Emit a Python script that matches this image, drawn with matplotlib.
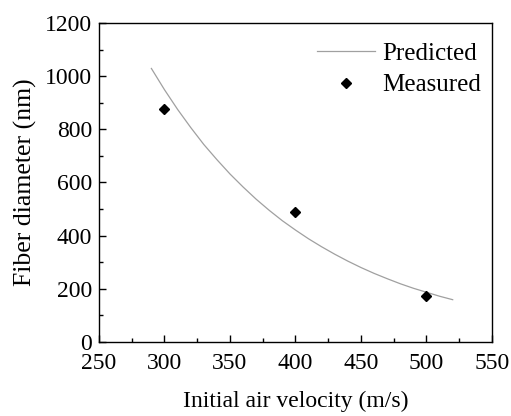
import matplotlib
matplotlib.use("Agg")
import matplotlib.pyplot as plt
from matplotlib.ticker import MultipleLocator
from matplotlib import font_manager

# Predicted curve
pred_v = [290, 300, 310, 320, 330, 340, 350, 360, 370, 380, 390, 400, 410,
          420, 430, 440, 450, 460, 470, 480, 490, 500, 510, 520]
pred_d = [1029, 949, 875, 807, 743, 686, 632, 583, 537, 495, 456, 421, 388,
          358, 330, 304, 280, 258, 238, 219, 202, 187, 172, 159]

# Measured points
meas_v = [300, 400, 500]
meas_d = [876, 490, 172]

names = {f.name for f in font_manager.fontManager.ttflist}
serif = "Liberation Serif" if "Liberation Serif" in names else "DejaVu Serif"
plt.rcParams["font.family"] = "serif"
plt.rcParams["font.serif"] = [serif, "DejaVu Serif"]

fig = plt.figure(figsize=(5.11, 4.16), dpi=100)
ax = fig.add_axes([0.1937, 0.178, 0.7691, 0.7667])

ax.plot(pred_v, pred_d, color="#a0a0a0", linewidth=0.9, label="Predicted")
ax.plot(meas_v, meas_d, linestyle="none", marker="D", markersize=5.3,
        color="black", label="Measured")

ax.set_xlim(250, 550)
ax.set_ylim(0, 1200)
ax.xaxis.set_major_locator(MultipleLocator(50))
ax.xaxis.set_minor_locator(MultipleLocator(25))
ax.yaxis.set_major_locator(MultipleLocator(200))
ax.yaxis.set_minor_locator(MultipleLocator(100))
ax.tick_params(which="both", direction="in", top=False, right=False,
               labelsize=17)
ax.tick_params(axis="x", pad=8)
ax.tick_params(axis="y", pad=5)
ax.tick_params(which="major", length=5, width=1)
ax.tick_params(which="minor", length=3, width=1)
for s in ax.spines.values():
    s.set_linewidth(1.0)

ax.set_xlabel("Initial air velocity (m/s)", fontsize=17, labelpad=12)
ax.set_ylabel("Fiber diameter (nm)", fontsize=18.5, labelpad=6)

ax.legend(loc="upper right", bbox_to_anchor=(0.992, 0.962), frameon=False,
          fontsize=18, handlelength=2.3, handletextpad=0.3, borderpad=0.3,
          labelspacing=0.35, borderaxespad=0.0)

fig.savefig("out.png", dpi=100)
